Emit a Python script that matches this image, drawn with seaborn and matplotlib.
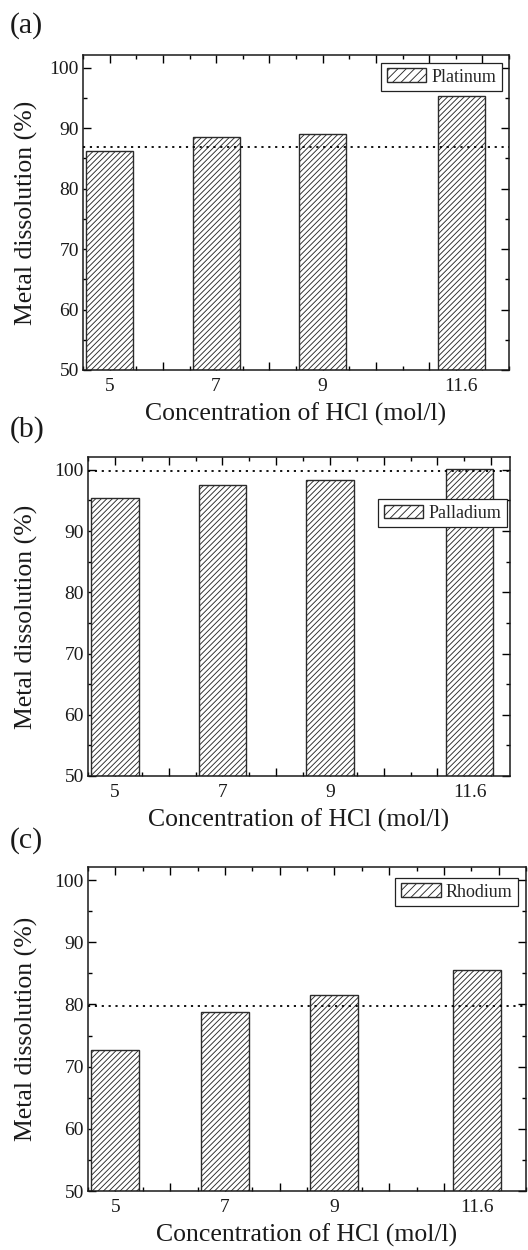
import matplotlib
matplotlib.use("Agg")
import matplotlib.pyplot as plt
from matplotlib.patches import Patch
from matplotlib.ticker import MultipleLocator
import seaborn as sns
import pandas as pd

# ---- data ----
conc = [5, 7, 9, 11.6]
platinum = [86.3, 88.5, 89.1, 95.4]
palladium = [95.4, 97.6, 98.4, 100.2]
rhodium = [72.6, 78.8, 81.5, 85.5]
ref_levels = [86.9, 99.8, 79.7]
metals = ["Platinum", "Palladium", "Rhodium"]
panel_tags = ["(a)", "(b)", "(c)"]
xtick_vals = [5, 6, 7, 8, 9, 10, 11, 11.6, 12]
xtick_labels = ["5", "", "7", "", "9", "", "", "11.6", ""]

sns.set_style("ticks")
plt.rcParams["font.family"] = ["Liberation Serif", "DejaVu Serif"]
plt.rcParams["hatch.linewidth"] = 0.65

W, H = 528, 1250
fig = plt.figure(figsize=(W / 100, H / 100), dpi=100)

# axes boxes in pixels: left, right, top, bottom ; xlim right
boxes = [(83, 509, 55, 370, 12.5), (88, 510, 457, 776, 12.35), (88, 526, 867, 1191, 12.5)]
legend_anchor = [(0.9836, 0.9746), (0.993, 0.868), (0.982, 0.966)]
tag_y = [26, 430, 841]

values = [platinum, palladium, rhodium]
edge = "#2b2b2b"

for i in range(3):
    l, r, t, b, xr = boxes[i]
    ax = fig.add_axes([l / W, 1 - b / H, (r - l) / W, (b - t) / H])
    df = pd.DataFrame({"conc": conc, "val": values[i]})
    sns.barplot(data=df, x="conc", y="val", native_scale=True, width=0.44,
                color="white", edgecolor=edge, linewidth=1.0, errorbar=None, ax=ax,
                saturation=1)
    for p in ax.patches:
        p.set_hatch("//////")
        p.set_facecolor("white")
        p.set_edgecolor(edge)
    ax.axhline(ref_levels[i], color="black", linestyle=(0, (1.2, 2.6)), linewidth=1.3, zorder=5)
    ax.set_xlim(4.5, xr)
    ax.set_ylim(50, 102.1)
    ax.set_xticks(xtick_vals)
    ax.set_xticklabels(xtick_labels)
    ax.xaxis.set_minor_locator(MultipleLocator(0.5))
    ax.set_yticks([50, 60, 70, 80, 90, 100])
    ax.yaxis.set_minor_locator(MultipleLocator(5))
    ax.tick_params(axis="both", which="both", direction="in", top=True, right=True,
                   labelsize=14, width=1.0, color="black", labelcolor="#1a1a1a")
    ax.tick_params(axis="both", which="major", length=5.5)
    ax.tick_params(axis="both", which="minor", length=3)
    ax.tick_params(axis="x", which="major", pad=6)
    ax.tick_params(axis="y", which="major", pad=3)
    t116 = ax.xaxis.get_major_ticks()[7]
    t116.tick1line.set_visible(False)
    t116.tick2line.set_visible(False)
    for s in ax.spines.values():
        s.set_linewidth(1.1)
        s.set_color("#1a1a1a")
    ax.set_xlabel("Concentration of HCl (mol/l)", fontsize=18.5, color="#1a1a1a")
    ax.set_ylabel("Metal dissolution (%)", fontsize=18.5, color="#1a1a1a")
    ax.xaxis.set_label_coords(0.5, -33 / (b - t))
    ax.yaxis.set_label_coords((38 - l) / (r - l), 0.5)
    handle = Patch(facecolor="white", edgecolor=edge, hatch="////", linewidth=1.0)
    leg = ax.legend([handle], [metals[i]], loc="upper right", bbox_to_anchor=legend_anchor[i],
                    borderaxespad=0, fontsize=13, fancybox=False, framealpha=1,
                    edgecolor="#222222", borderpad=0.3, handletextpad=0.3,
                    handlelength=2.2, handleheight=0.8)
    leg.get_frame().set_linewidth(0.9)
    fig.text(10 / W, 1 - tag_y[i] / H, panel_tags[i], fontsize=21.5, ha="left", va="center",
             color="#1a1a1a")

fig.savefig("out.png", dpi=100)
